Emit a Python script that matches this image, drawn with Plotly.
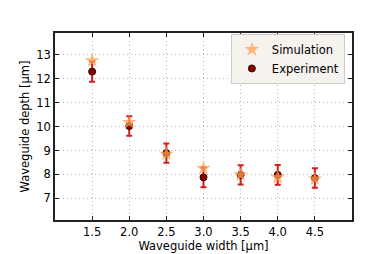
import plotly.graph_objects as go

widths = [1.5, 2.0, 2.5, 3.0, 3.5, 4.0, 4.5]
exp_depth = [12.29, 10.02, 8.89, 7.88, 7.98, 7.98, 7.85]
exp_err = [0.42, 0.41, 0.40, 0.41, 0.40, 0.41, 0.41]
sim_depth = [12.75, 10.17, 8.85, 8.25, 7.99, 7.88, 7.81]
x_ticks = [1.5, 2.0, 2.5, 3.0, 3.5, 4.0, 4.5]
y_ticks = [7, 8, 9, 10, 11, 12, 13]

font = dict(family="DejaVu Sans", size=11.5, color="black")

fig = go.Figure()
fig.add_trace(go.Scatter(
    x=widths, y=exp_depth, mode="markers", name="Experiment",
    marker=dict(symbol="circle", size=7, color="#8b0000",
                line=dict(color="#330000", width=1)),
    error_y=dict(type="data", array=exp_err, visible=True,
                 color="#d41c1c", thickness=2, width=3),
))
fig.add_trace(go.Scatter(
    x=widths, y=sim_depth, mode="markers", name="Simulation",
    marker=dict(symbol="star", size=11, color="rgba(255,160,80,0.75)",
                line=dict(color="rgba(255,160,80,0.75)", width=0)),
))

axis_common = dict(
    showline=True, linecolor="#222222", linewidth=1.5, mirror="allticks",
    ticks="inside", ticklen=4, tickcolor="#222222", tickwidth=1,
    showgrid=True, gridcolor="#b4b4b4", griddash="1px,3px", gridwidth=1,
    zeroline=False, tickfont=font,
)

fig.update_layout(
    width=382, height=254,
    margin=dict(l=47, r=38, t=25, b=32),
    paper_bgcolor="white", plot_bgcolor="white",
    showlegend=True,
    legend=dict(x=0.976, y=0.995, xanchor="right", yanchor="top",
                bgcolor="#f6f2ee", bordercolor="#cccccc", borderwidth=1,
                font=dict(family="DejaVu Sans", size=11.5, color="black"),
                traceorder="reversed", tracegroupgap=0, itemwidth=30),
    xaxis=dict(range=[1.0, 5.0], tickvals=x_ticks,
               ticktext=[f"{v:.1f}" for v in x_ticks],
               title=dict(text="Waveguide width [μm]", font=font, standoff=3),
               **axis_common),
    yaxis=dict(range=[6.1, 13.9], tickvals=y_ticks,
               title=dict(text="Waveguide depth [μm]", font=font, standoff=4),
               **axis_common),
)

fig.write_html("out.html")
